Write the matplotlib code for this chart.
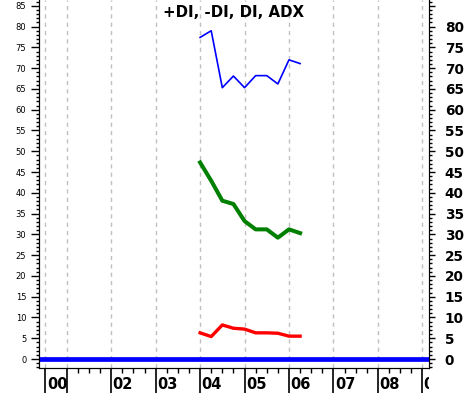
import numpy as np
import matplotlib.pyplot as plt
from matplotlib.patches import Rectangle
from matplotlib.ticker import MultipleLocator, FixedLocator
import matplotlib.transforms as mtransforms

# quarterly readings (decimal years)
dates = [2004.0, 2004.25, 2004.5, 2004.75, 2005.0, 2005.25, 2005.5, 2005.75, 2006.0, 2006.25]
plus_di = [77.4, 79.0, 65.3, 68.1, 65.3, 68.2, 68.2, 66.2, 72.0, 71.1]
adx = [47.3, 42.9, 38.1, 37.3, 33.2, 31.2, 31.2, 29.2, 31.2, 30.3]
minus_di = [6.3, 5.4, 8.2, 7.4, 7.2, 6.3, 6.3, 6.2, 5.5, 5.5]
di_level = 0

year_marks = [2000.52, 2001, 2002, 2003, 2004, 2005, 2006, 2007, 2008, 2009]
year_labels = ['00', '', '02', '03', '04', '05', '06', '07', '08', '09']
quarter_marks = np.arange(2001, 2009.2, 0.25)

fig = plt.figure(figsize=(4.67, 3.93), dpi=100)
ax = fig.add_axes([0.083, 0.0628, 0.8356, 0.9372])
ax.set_xlim(2000.37, 2009.15)
ax.set_ylim(-2.24, 86.4)

ax.set_axisbelow(True)
ax.axhline(di_level, color='#0000ff', lw=3.4, zorder=3)
ax.plot(dates, plus_di, color='#0000ff', lw=1.2, zorder=4)
ax.plot(dates, adx, color='#008000', lw=2.9, zorder=4)
ax.plot(dates, minus_di, color='#ff0000', lw=2.4, zorder=4)

# x axis: long year dividers, short quarter ticks
ax.xaxis.set_major_locator(FixedLocator(year_marks))
ax.xaxis.set_minor_locator(FixedLocator(quarter_marks))
ax.tick_params(axis='x', which='major', length=18, width=1.2, direction='out', labelbottom=False)
ax.tick_params(axis='x', which='minor', length=3.6, width=1, direction='out')
ax.grid(axis='x', which='major', color='#c0c0c0', ls=(0, (3, 3)), lw=1)

trans = mtransforms.blended_transform_factory(ax.transData, ax.transAxes)
clip = Rectangle((0, -0.2), 1, 0.2, transform=ax.transAxes)
for pos, lab in zip(year_marks, year_labels):
    t = ax.text(pos + 0.03, -0.043, lab, transform=trans, ha='left', va='center',
                fontsize=10.5, fontweight='bold', clip_on=True)
    t.set_clip_path(clip)

# left axis
ax.yaxis.set_major_locator(MultipleLocator(5))
ax.yaxis.set_minor_locator(MultipleLocator(1))
ax.tick_params(axis='y', which='major', length=5.5, width=1, pad=3.5, labelsize=6)
ax.tick_params(axis='y', which='minor', length=2.5, width=1)
ax.set_yticks(np.arange(0, 86, 5))

# right axis
ax2 = ax.twinx()
ax2.set_ylim(ax.get_ylim())
ax2.yaxis.set_major_locator(FixedLocator(np.arange(0, 86, 5)))
ax2.yaxis.set_minor_locator(MultipleLocator(1))
ax2.set_yticklabels([str(v) if v <= 80 else '' for v in range(0, 86, 5)],
                    fontsize=9.8, fontweight='bold')
ax2.tick_params(axis='y', which='major', length=4.3, width=1, pad=7)
ax2.tick_params(axis='y', which='minor', length=2.2, width=1)

for a in (ax, ax2):
    a.spines['top'].set_visible(False)

ax.text(0.5, 0.966, '+DI, -DI, DI, ADX', transform=ax.transAxes, ha='center', va='center',
        fontsize=10.8, fontweight='bold')

fig.savefig('out.png', dpi=100)
